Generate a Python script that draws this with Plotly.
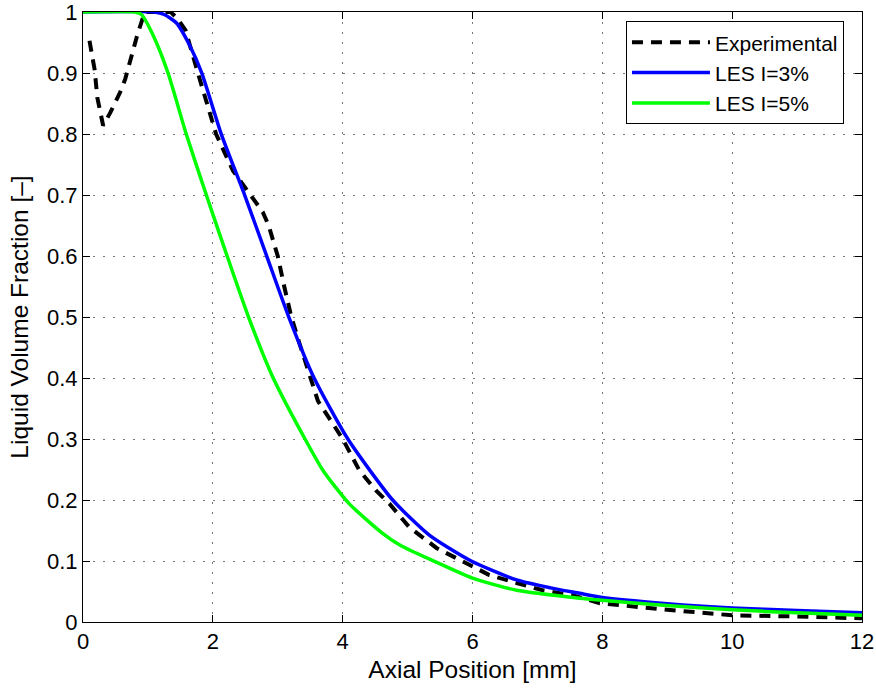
import plotly.graph_objects as go

# Experimental data
exp_x = [0.1, 0.18, 0.22, 0.31, 0.42, 0.57, 0.65, 0.83, 0.95, 1.35, 1.45, 1.58, 1.77, 1.93, 2.05,
         2.31, 2.45, 2.58, 2.77, 2.86, 3.0, 3.1, 3.21, 3.34, 3.5, 3.62, 3.85, 4.0, 4.26,
         4.52, 4.72, 5.03, 5.45, 5.88, 6.26, 6.68, 7.08, 7.54, 7.95, 9.0, 10.0, 11.0, 12.0]
exp_y = [0.953, 0.905, 0.86, 0.814, 0.835, 0.868, 0.89, 0.96, 1.0, 1.0, 0.99, 0.97, 0.9, 0.84, 0.8,
         0.74, 0.72, 0.70, 0.672, 0.65, 0.6, 0.55, 0.5, 0.455, 0.4, 0.362, 0.325, 0.3, 0.248,
         0.215, 0.194, 0.155, 0.121, 0.098, 0.077, 0.064, 0.052, 0.044, 0.031, 0.02, 0.011, 0.009, 0.006]

# LES I=3%
les3_x = [0.0, 1.1, 1.25, 1.44, 1.65, 1.83, 2.13, 2.49, 2.83, 3.17, 3.56, 4.08, 4.77,
          5.34, 5.98, 6.68, 7.2, 7.65, 7.95, 9.0, 10.0, 11.0, 12.0]
les3_y = [1.0, 1.0, 0.996, 0.982, 0.944, 0.9, 0.8, 0.7, 0.6, 0.5, 0.4, 0.3, 0.2,
          0.142, 0.1, 0.069, 0.056, 0.047, 0.041, 0.03, 0.023, 0.019, 0.015]

# LES I=5%
les5_x = [0.0, 0.8, 0.9, 1.08, 1.31, 1.59, 1.9, 2.22, 2.55, 2.93, 3.42, 3.7, 4.1, 4.62, 4.9, 5.38,
          6.0, 6.68, 7.65, 7.95, 9.0, 10.0, 11.0, 12.0]
les5_y = [1.0, 1.0, 0.996, 0.962, 0.9, 0.8, 0.7, 0.6, 0.5, 0.4, 0.3, 0.248, 0.194, 0.145, 0.125, 0.101,
          0.072, 0.052, 0.039, 0.036, 0.027, 0.02, 0.015, 0.011]

x_ticks = [0, 2, 4, 6, 8, 10, 12]
y_ticks = [0, 0.1, 0.2, 0.3, 0.4, 0.5, 0.6, 0.7, 0.8, 0.9, 1]
y_tick_labels = ["0", "0.1", "0.2", "0.3", "0.4", "0.5", "0.6", "0.7", "0.8", "0.9", "1"]

FONT = "Liberation Sans, Arial, Helvetica, sans-serif"

fig = go.Figure()
fig.add_trace(go.Scatter(x=exp_x, y=exp_y, mode="lines", name="Experimental",
                         line=dict(color="black", width=4, dash="11px,8px")))
fig.add_trace(go.Scatter(x=les3_x, y=les3_y, mode="lines", name="LES I=3%",
                         line=dict(color="#0000FF", width=3.5, shape="spline", smoothing=0.6)))
fig.add_trace(go.Scatter(x=les5_x, y=les5_y, mode="lines", name="LES I=5%",
                         line=dict(color="#00FF00", width=3.5, shape="spline", smoothing=0.6)))

axis_common = dict(
    showline=True, linecolor="black", linewidth=1, mirror="ticks",
    ticks="inside", ticklen=7, tickcolor="black", tickwidth=1,
    showgrid=True, gridcolor="#777777", griddash="2px,8px", gridwidth=1,
    zeroline=False, tickfont=dict(family=FONT, size=22, color="black"),
    ticklabeloverflow="allow", automargin=False,
)

fig.update_layout(
    width=876, height=689,
    margin=dict(l=83, r=14, t=12, b=67),
    paper_bgcolor="white", plot_bgcolor="white",
    font=dict(family=FONT, color="black"),
    xaxis=dict(range=[0, 12], tickvals=x_ticks,
               title=dict(text="Axial Position [mm]", font=dict(size=24.5), standoff=7),
               **axis_common),
    yaxis=dict(range=[0, 1.0001], tickvals=y_ticks, ticktext=y_tick_labels,
               title=dict(text="Liquid Volume Fraction [–]", font=dict(size=24.5), standoff=11),
               **axis_common),
    legend=dict(x=0.697, y=0.985, xanchor="left", yanchor="top",
                bgcolor="white", bordercolor="black", borderwidth=1,
                font=dict(family=FONT, size=21, color="black"),
                itemwidth=78, tracegroupgap=0),
    showlegend=True,
)

fig.write_html("out.html")
